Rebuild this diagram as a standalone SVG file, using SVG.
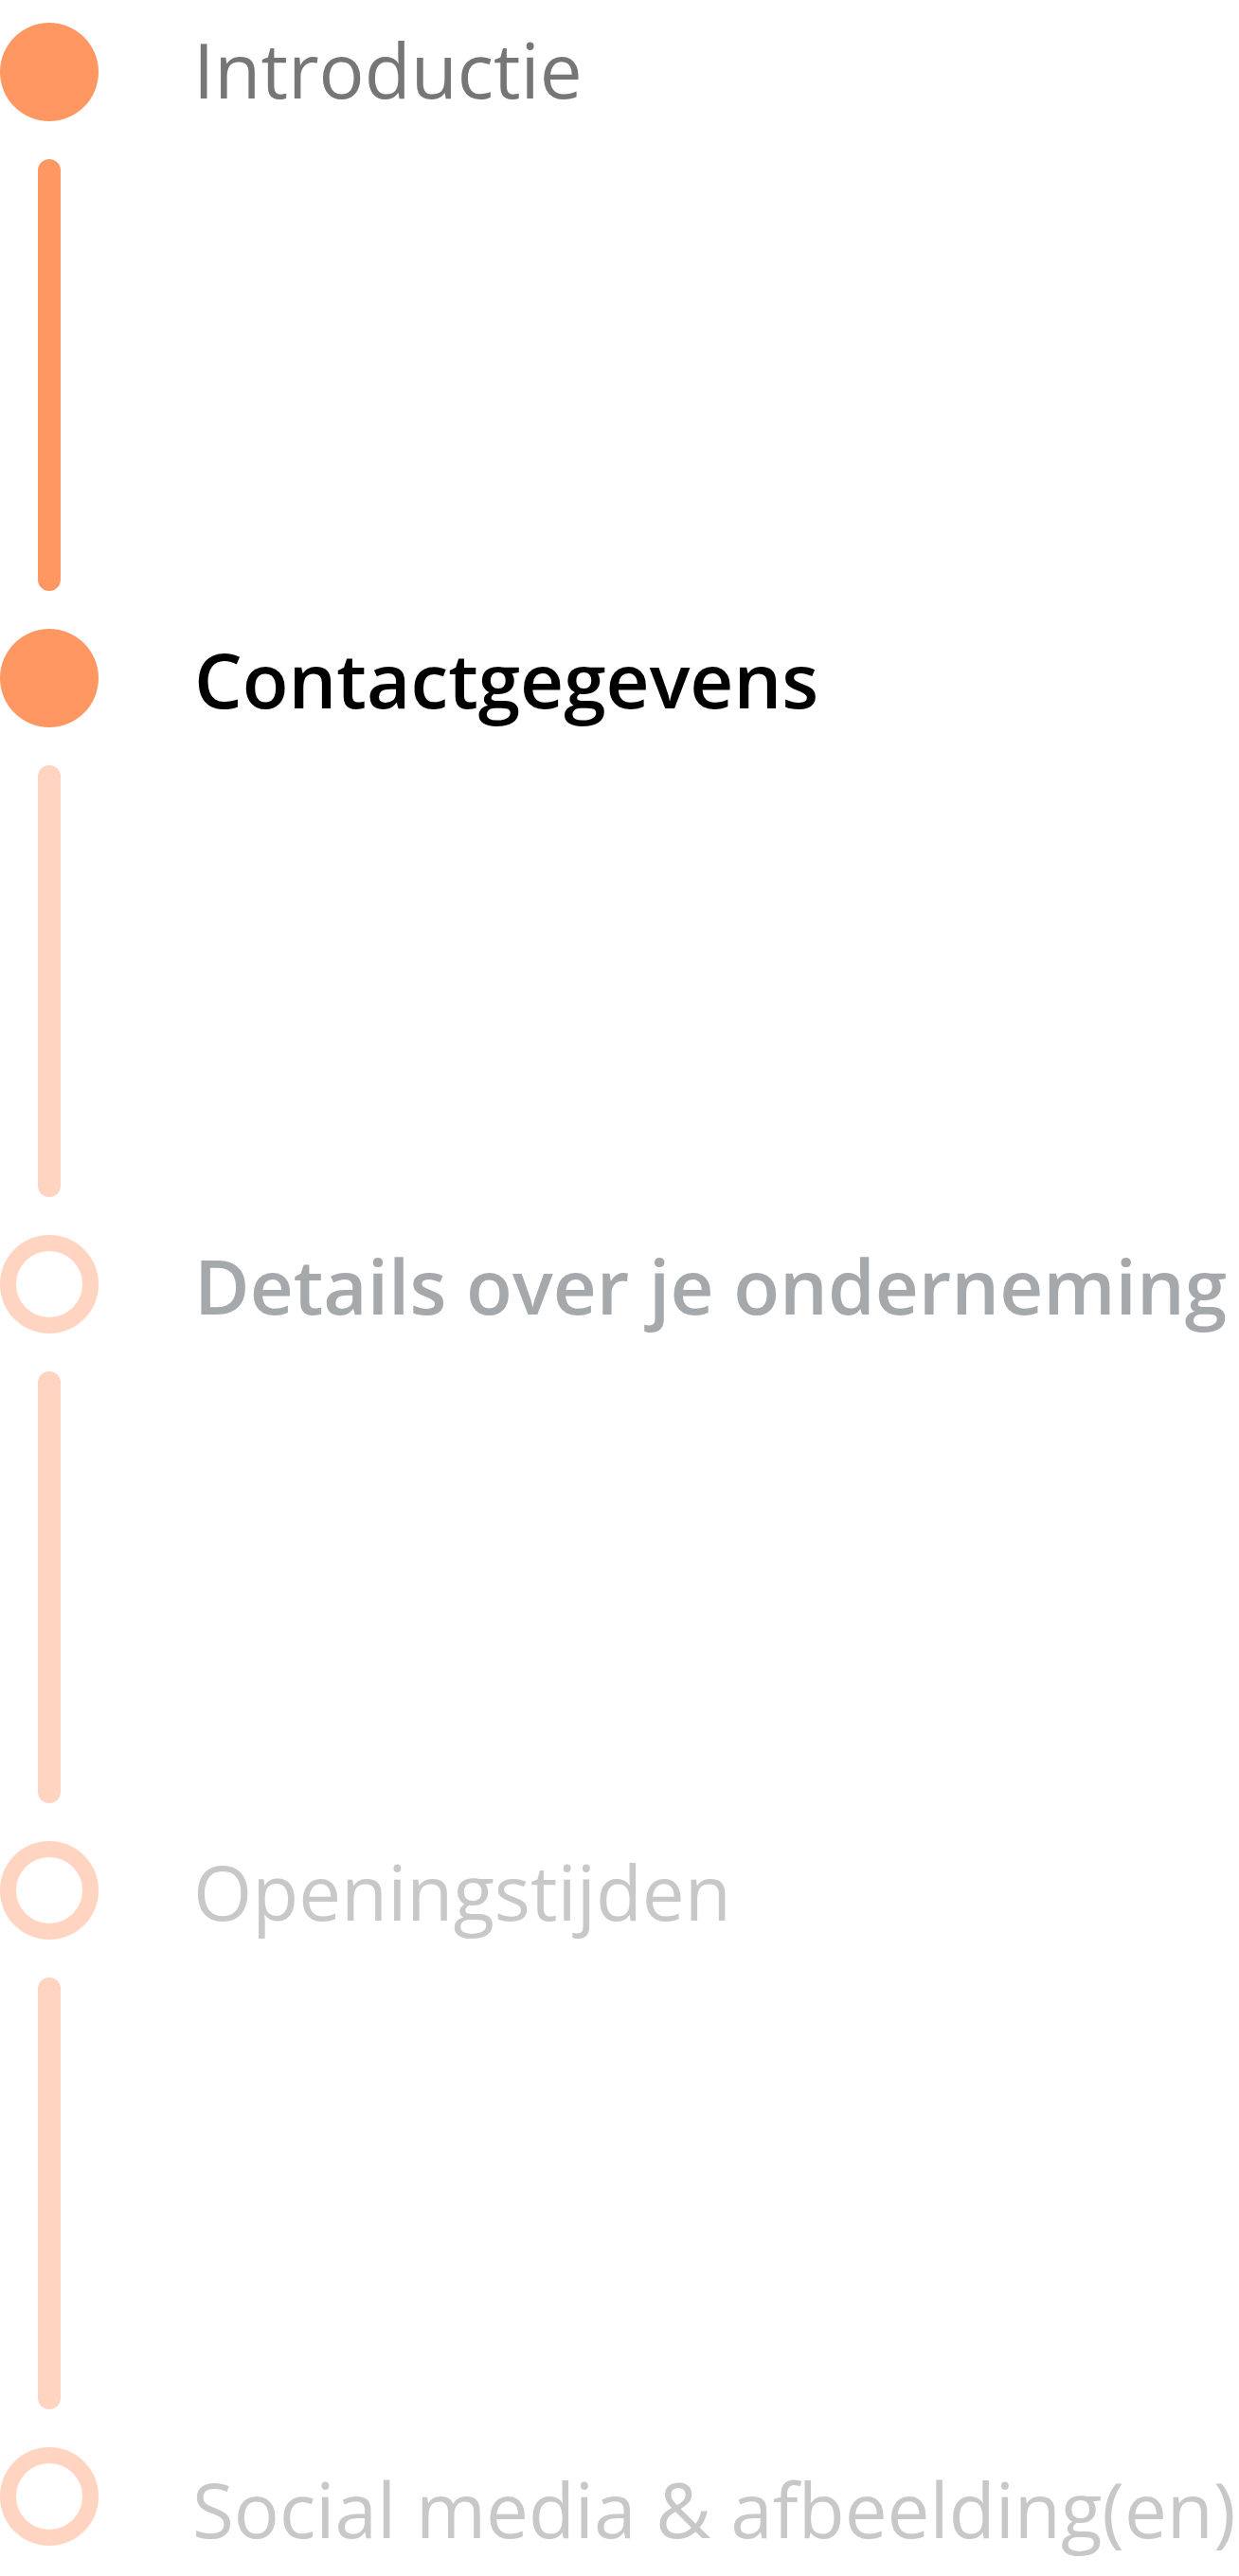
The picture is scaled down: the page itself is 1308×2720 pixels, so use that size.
<svg xmlns="http://www.w3.org/2000/svg" width="1308" height="2720" viewBox="0 0 1308 2720">
<style>
.t{font-family:"Open Sans","Noto Sans",sans-serif;font-size:80px}
.light{font-weight:400}
.semi{font-weight:600}
.done{fill:#FF9763}
.todo{fill:none;stroke:#FFD4C1;stroke-width:17}
.ldone{stroke:#FF9763;stroke-width:24;stroke-linecap:round}
.ltodo{stroke:#FFD4C1;stroke-width:24;stroke-linecap:round}
</style>
<rect width="1308" height="2720" fill="#fff"/>
<g id="connectors">
<line class="ldone" x1="52" y1="180" x2="52" y2="612"/>
<line class="ltodo" x1="52" y1="820" x2="52" y2="1252"/>
<line class="ltodo" x1="52" y1="1460" x2="52" y2="1892"/>
<line class="ltodo" x1="52" y1="2100" x2="52" y2="2532"/>
</g>
<g id="step1">
<circle class="done" cx="52" cy="76" r="52"/>
<text class="t light" x="204" y="104" fill="#767676">Introductie</text>
</g>
<g id="step2">
<circle class="done" cx="52" cy="716" r="52"/>
<text class="t semi" x="205" y="748" fill="#000">Contactgegevens</text>
</g>
<g id="step3">
<circle class="todo" cx="52" cy="1356" r="43.5"/>
<text class="t semi" x="205" y="1388" fill="#A6A9AB">Details over je onderneming</text>
</g>
<g id="step4">
<circle class="todo" cx="52" cy="1996" r="43.5"/>
<text class="t light" x="204" y="2028" fill="#C8C8C8">Openingstijden</text>
</g>
<g id="step5">
<circle class="todo" cx="52" cy="2636" r="43.5"/>
<text class="t light" x="203" y="2680" fill="#C8C8C8">Social media &amp; afbeelding(en)</text>
</g>
</svg>
